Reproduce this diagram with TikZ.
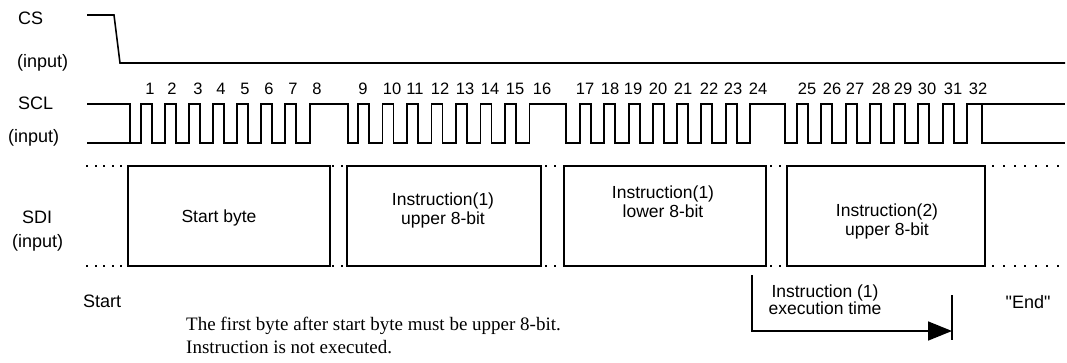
\documentclass[tikz,border=0pt]{standalone}
\usepackage{fontspec}
\setmainfont{Liberation Sans}
\newfontfamily\timesfont{Liberation Serif}
\usetikzlibrary{arrows.meta}
\begin{document}
\begin{tikzpicture}[x=1pt,y=-1pt,
  wave/.style={line width=1.6pt, line join=miter},
  lbl/.style={inner sep=0pt, anchor=west, font=\fontsize{18}{19}\selectfont},
  num/.style={inner sep=0pt, font=\fontsize{16.5}{18}\selectfont},
  bytebox/.style={draw, line width=1.6pt, inner sep=0pt, minimum height=100pt},
  boxtxt/.style={inner sep=0pt, align=center, font=\fontsize{17.5}{19}\selectfont},
  dotmark/.style={fill=black}
]
\useasboundingbox (0,0) rectangle (1067,362);

% signal labels
\node[lbl] (cs) at (18,18) {CS};
\node[lbl] (csin) at (17,63) {(input)};
\node[lbl] (scl) at (18,103) {SCL};
\node[lbl] (sclin) at (8,138) {(input)};
\node[lbl] (sdi) at (22,217) {SDI};
\node[lbl] (sdiin) at (12,243) {(input)};

% CS waveform
\draw[wave] (87,15) -- (114,15) -- (120,63) -- (1065,63);

% SCL waveform
\draw[wave] (87,104) -- (130,104) -- (130,143)
  \foreach \r in {141,165,189,213,237,261,285} { -- (\r,143) -- (\r,104) -- ({\r+11},104) -- ({\r+11},143) }
  -- (310,143) -- (310,104) -- (348,104) -- (348,143)
  \foreach \r in {358,382.5,407,431.5,456,480.5,505} { -- (\r,143) -- (\r,104) -- ({\r+11},104) -- ({\r+11},143) }
  -- (529.5,143) -- (529.5,104) -- (566,104) -- (566,143)
  \foreach \r in {580,604,629,653,677,701,726} { -- (\r,143) -- (\r,104) -- ({\r+11},104) -- ({\r+11},143) }
  -- (750,143) -- (750,104) -- (785,104) -- (785,143)
  \foreach \r in {797,821,846,870,894,918,943} { -- (\r,143) -- (\r,104) -- ({\r+11},104) -- ({\r+11},143) }
  -- (967,143) -- (967,104) -- (1065,104);
\draw[wave] (87,143) -- (130,143);
\draw[wave] (982,104) -- (982,143) -- (1065,143);

% clock numbers
\foreach \n/\x in {1/150,2/172,3/198,4/221,5/245,6/269,7/293,8/317,
  9/363,10/392,11/415,12/440,13/465,14/490,15/515,16/542,
  17/585,18/610,19/633,20/658,21/683,22/709,23/733,24/758,
  25/807,26/832,27/855,28/881,29/903,30/927,31/953,32/978}
  \node[num] (n\n) at (\x,89) {\n};

% SDI dotted guide lines
\foreach \x in {87,95.5,104,112.5,121,333,342,546,555,771,780,993,1003.8,1014.6,1025.4,1036.2,1047,1057.8} {
  \fill[dotmark] (\x-1,165) rectangle +(2,2);
  \fill[dotmark] (\x-1,265) rectangle +(2,2);
}

% SDI byte boxes
\node[bytebox, minimum width=202pt] (b1) at (229,216) {};
\node[bytebox, minimum width=194pt] (b2) at (444,216) {};
\node[bytebox, minimum width=202pt] (b3) at (665,216) {};
\node[bytebox, minimum width=198pt] (b4) at (886,216) {};

\node[boxtxt] (t1) at (219,218) {Start byte};
\node[boxtxt] (t2) at (443,210) {Instruction(1)\\upper 8-bit};
\node[boxtxt] (t3) at (663,202) {Instruction(1)\\lower 8-bit};
\node[boxtxt] (t4) at (887,221) {Instruction(2)\\upper 8-bit};

% bottom labels
\node[lbl] (start) at (83,301) {Start};
\node[inner sep=0pt, font=\fontsize{18}{19}\selectfont] (end) at (1028,302) {\textquotedbl End\textquotedbl};
\node[inner sep=0pt, anchor=west, align=left, font=\timesfont\fontsize{19}{23}\selectfont] (note) at (186,335)
  {The first byte after start byte must be upper 8-bit.\\Instruction is not executed.};

% execution time arrow
\coordinate (e0) at (752,275);
\coordinate (e1) at (952,331);
\coordinate (bt) at (952,295);
\coordinate (bb) at (952,340);
\draw[wave, -{Triangle[length=24pt,width=19pt]}] (e0) |- (e1);
\draw[wave] (bt) -- (bb);
\node[inner sep=0pt, align=center, font=\fontsize{17.5}{16}\selectfont] (exec) at (825,300) {Instruction (1)\\execution time};
\end{tikzpicture}
\end{document}
